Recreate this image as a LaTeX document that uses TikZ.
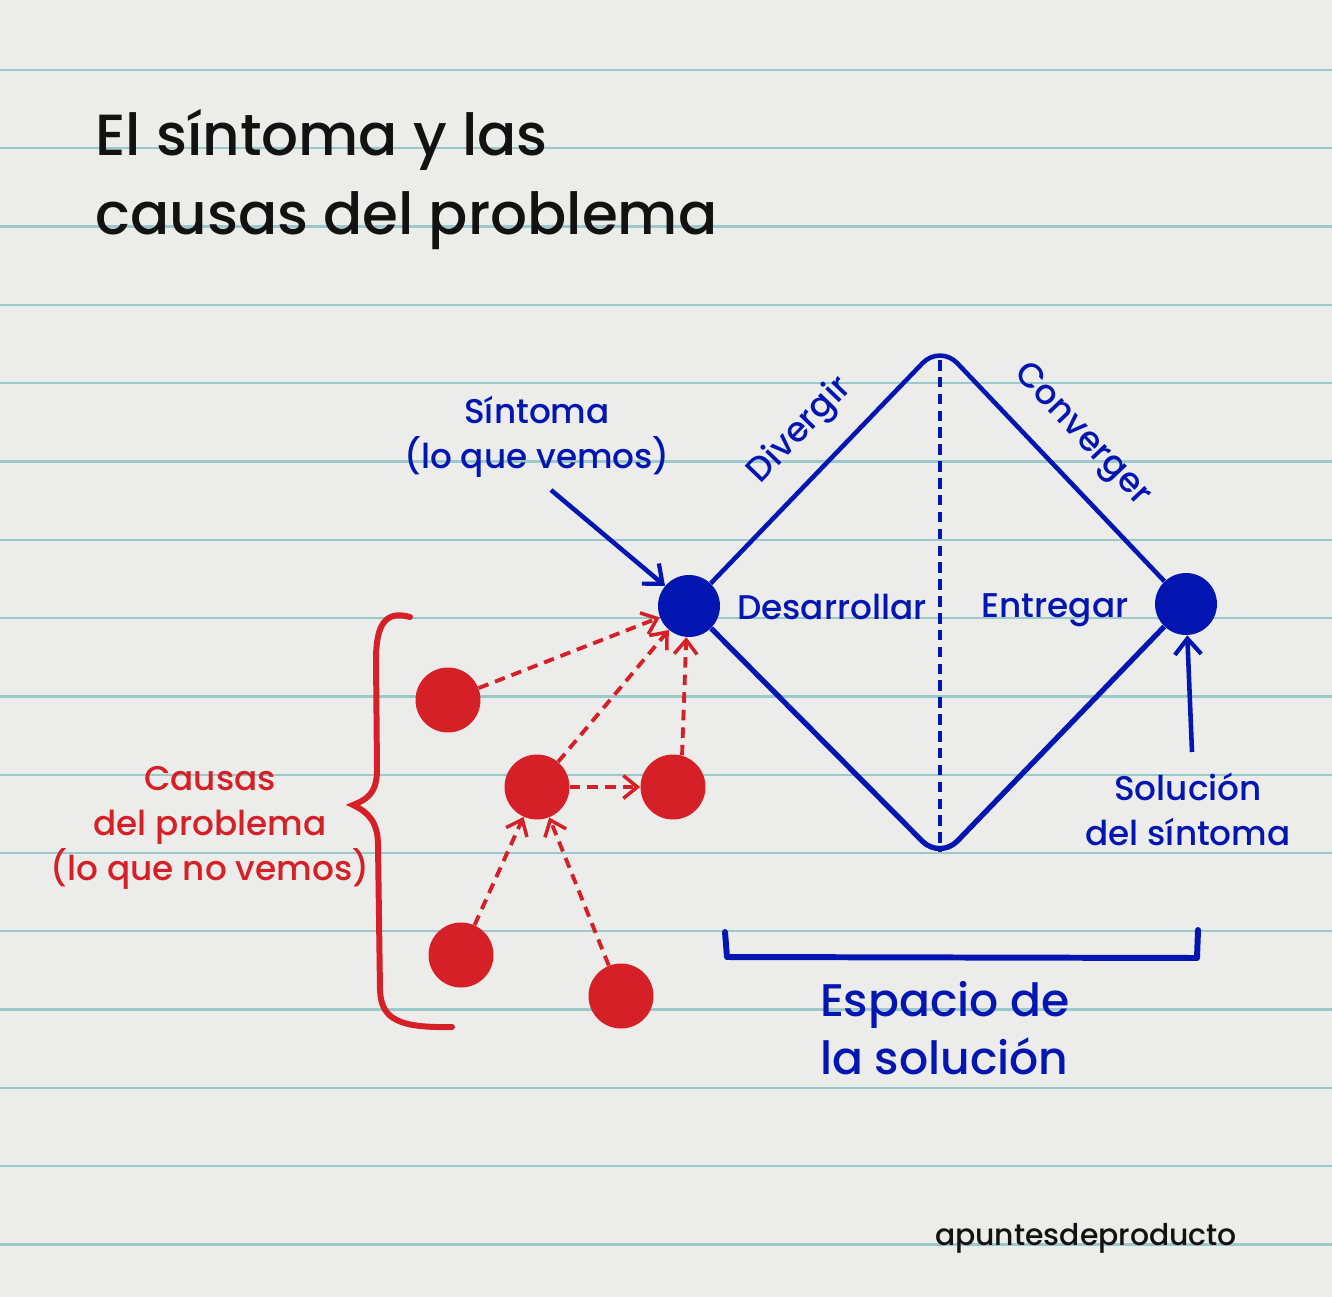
\documentclass[tikz,border=0pt]{standalone}
\usepackage{fontspec}
\IfFontExistsTF{Poppins Medium}{\setmainfont{Poppins Medium}}{\setmainfont{Poppins}}
\usetikzlibrary{arrows.meta}
\definecolor{paper}{RGB}{236,236,234}
\definecolor{ruleline}{RGB}{155,200,202}
\definecolor{inkblue}{RGB}{4,22,178}
\definecolor{inkred}{RGB}{214,32,40}
\definecolor{inkblack}{RGB}{18,18,18}
\tikzset{
	bluedot/.style={circle,fill=inkblue,inner sep=0pt,minimum size=1.24cm},
	reddot/.style={circle,fill=inkred,inner sep=0pt,minimum size=1.30cm},
	bluelabel/.style={text=inkblue,font=\fontsize{19.5}{25.6}\selectfont,align=center,inner sep=0pt},
	redlabel/.style={text=inkred,font=\fontsize{19.5}{25.6}\selectfont,align=center,inner sep=0pt},
	edgeline/.style={draw=inkblue,line width=2.6pt,rounded corners=0.5cm,line join=round},
	bluearrow/.style={draw=inkblue,line width=2.6pt,-{Straight Barb[length=9pt,width=15pt,line width=2.4pt]}},
	redarrow/.style={draw=inkred,line width=2.2pt,dash pattern=on 6pt off 4pt,-{Straight Barb[length=8pt,width=13pt,line width=2pt]}}
}
\begin{document}
\begin{tikzpicture}[x=0.02cm,y=-0.02cm]
	%%%%%%%%%%%%%%%%%%%
	%      paper      %
	%%%%%%%%%%%%%%%%%%%
		\useasboundingbox (0,0) rectangle (1332,1297);
		\fill [paper] (0,0) rectangle (1332,1297);
		\def\firstLine{70}
		\def\lineGap{78.3}
		\foreach \k in {0,...,15}
			\draw [ruleline,line width=1.3pt] (0,{\firstLine+\lineGap*\k}) -- (1332,{\firstLine+\lineGap*\k});
		% title
		\node (title) [anchor=base west,inner sep=0pt,align=left,text=inkblack,font=\fontsize{33}{45.5}\selectfont] at (95,235) {El síntoma y las\\causas del problema};
	%%%%%%%%%%%%%%%%%%%
	%     diamond     %
	%%%%%%%%%%%%%%%%%%%
		\node (desde) [bluedot] at (689,606) {};
		\node (hasta) [bluedot] at (1186,604) {};
		\coordinate (top) at (940,345);
		\coordinate (bottom) at (940,859);
		\draw [edgeline] (desde) -- node [sloped,above=12pt,pos=0.52,bluelabel] (div) {Divergir} (top)
			-- node [sloped,above=12pt,pos=0.5,bluelabel] (conv) {Converger} (hasta);
		\draw [edgeline,line width=3pt] (desde) -- (bottom) -- (hasta);
		% middle
		\coordinate (midtop) at (940,360);
		\coordinate (midbot) at (940,852);
		\draw [inkblue,line width=2.4pt,dash pattern=on 6pt off 3.6pt] (midtop) -- (midbot);
		\node (desarrollar) [bluelabel] at (832,607) {Desarrollar};
		\node (entregar) [bluelabel] at (1055,610) {Entregar};
		% symptom
		\node (sintoma) [bluelabel] at (537,437) {Síntoma\\(lo que vemos)};
		\coordinate (sintfrom) at (551,490);
		\draw [bluearrow] (sintfrom) -- (desde);
		% solution
		\node (solucion) [bluelabel] at (1188,809) {Solución\\del síntoma};
		\coordinate (solfrom) at (1192,752);
		\draw [bluearrow] (solfrom) -- (hasta);
		% bracket
		\coordinate (bl) at (725,932);
		\coordinate (br) at (1198,930);
		\draw [inkblue,line width=3.4pt,line cap=round,line join=round] (bl) -- ++(2,25) -- (1197,958) -- (br);
		\node (espacio) [bluelabel,align=left,font=\fontsize{26}{33}\selectfont] at (945,1028) {Espacio de\\la solución};
	%%%%%%%%%%%%%%%%%%%
	%     causes      %
	%%%%%%%%%%%%%%%%%%%
		\foreach \name/\x/\y in {ca/448/700,cb/537/787,cc/673/787,cd/461/955,ce/621/996}
			\node (\name) [reddot] at (\x,\y) {};
		\draw [redarrow] (ca) -- (desde);
		\draw [redarrow] (cb) -- (desde);
		\draw [redarrow] (cc.74) -- (desde.265);
		\draw [redarrow] (cb) -- (cc);
		\draw [redarrow] (cd) -- (cb);
		\draw [redarrow] (ce) -- (cb);
		% brace
		\draw [inkred,line width=3.4pt,line cap=round] (410,617) .. controls (385,610) and (376,625) .. (376,660)
			-- (377,770) .. controls (377,795) and (365,800) .. (353,805)
			.. controls (368,812) and (378,822) .. (378,845)
			-- (380,990) .. controls (381,1020) and (400,1028) .. (452,1027);
		\node (causas) [redlabel] at (210,828) {Causas\\del problema\\(lo que no vemos)};
	%%%%%%%%%%%%%%%%%%%
	%    signature    %
	%%%%%%%%%%%%%%%%%%%
		\node (firma) [inner sep=0pt,text=inkblack,font=\fontsize{17}{20}\selectfont] at (1086,1238) {apuntesdeproducto};
\end{tikzpicture}
\end{document}
